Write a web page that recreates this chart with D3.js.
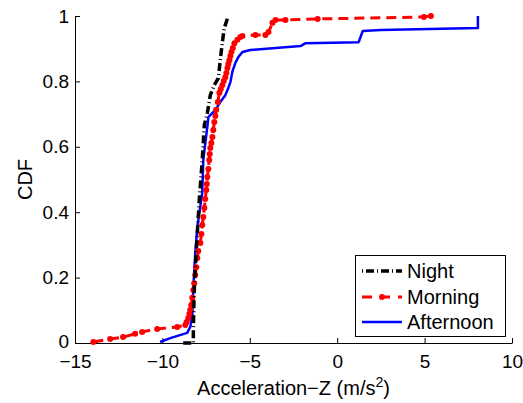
<!DOCTYPE html>
<html>
<head>
<meta charset="utf-8">
<script src="https://cdn.jsdelivr.net/npm/d3@7"></script>
<style>
  html, body { margin: 0; padding: 0; background: #fff; }
  svg { display: block; font-family: "Liberation Sans", Arial, sans-serif; }
</style>
</head>
<body>
<svg id="chart" width="523" height="403"></svg>
<script>
// Empirical CDFs of vertical acceleration for three times of day
const nightX = [-8.81, -8.23, -8.23, -8.18, -8.06, -7.89, -7.72, -7.60, -7.43, -7.26, -7.03, -6.80, -6.69, -6.57, -6.46, -6.23];
const nightY = [0, 0, 0.040, 0.162, 0.284, 0.437, 0.560, 0.667, 0.703, 0.758, 0.789, 0.810, 0.865, 0.920, 0.963, 1.0];

const morningX = [-13.95, -12.99, -12.25, -11.56, -11.16, -10.30, -9.15,
  -8.69, -8.61, -8.52, -8.46, -8.41, -8.35, -8.29, -8.23, -8.18, -8.12, -8.06, -8.00, -7.95,
  -7.83, -7.77, -7.72, -7.66, -7.60, -7.55, -7.49, -7.46, -7.43, -7.37, -7.32, -7.29, -7.26,
  -7.20, -7.14, -7.09, -7.03, -6.97, -6.92, -6.83, -6.74, -6.66, -6.57, -6.49, -6.40, -6.34,
  -6.28, -6.23, -6.17, -6.11, -6.05, -5.97, -5.88, -5.71, -5.54, -5.42,
  -4.68, -4.11, -3.93, -3.70, -3.53, -2.96, -1.12, 4.96, 5.36];
const morningY = [0.003, 0.012, 0.018, 0.028, 0.034, 0.043, 0.049,
  0.055, 0.064, 0.076, 0.089, 0.101, 0.116, 0.138, 0.162, 0.183, 0.208, 0.232, 0.260, 0.281,
  0.306, 0.333, 0.361, 0.385, 0.413, 0.440, 0.468, 0.486, 0.508, 0.532, 0.560, 0.578, 0.596,
  0.612, 0.630, 0.651, 0.676, 0.694, 0.713, 0.737, 0.765, 0.777, 0.789, 0.801, 0.813, 0.826,
  0.841, 0.853, 0.865, 0.878, 0.890, 0.902, 0.917, 0.927, 0.936, 0.939,
  0.942, 0.942, 0.951, 0.979, 0.988, 0.988, 0.991, 0.997, 1.0];

const afternoonX = [-10.13, -9.55, -8.58, -8.41, -8.29, -8.23, -8.12, -8.00, -7.72, -7.66, -7.43, -7.37, -7.09, -6.86, -6.69, -6.40, -6.23, -6.11, -6.00, -5.83, -5.65, -5.42, -4.97, -2.10, -1.81, 1.23, 1.46, 2.49, 8.05, 8.05];
const afternoonY = [0.003, 0.015, 0.031, 0.049, 0.080, 0.171, 0.275, 0.355, 0.459, 0.560, 0.661, 0.691, 0.706, 0.722, 0.737, 0.758, 0.780, 0.798, 0.829, 0.856, 0.875, 0.890, 0.896, 0.908, 0.917, 0.920, 0.954, 0.957, 0.963, 1.0];

const xTicks = [-15, -10, -5, 0, 5, 10];
const yTicks = [0, 0.2, 0.4, 0.6, 0.8, 1];
const seriesNames = ["Night", "Morning", "Afternoon"];

const svg = d3.select("#chart");
const x = d3.scaleLinear().domain([-15, 10]).range([75, 512]);
const y = d3.scaleLinear().domain([0, 1]).range([343, 16]);

const fmtNum = v => String(v).replace("-", "\u2212");

// axes: left and bottom only, ticks pointing inward
const xAxis = svg.append("g")
  .attr("transform", "translate(0,343)")
  .call(d3.axisBottom(x).tickValues(xTicks).tickSizeInner(-5).tickSizeOuter(0)
    .tickPadding(12).tickFormat(fmtNum));
const yAxis = svg.append("g")
  .attr("transform", "translate(75,0)")
  .call(d3.axisLeft(y).tickValues(yTicks).tickSizeInner(-5).tickSizeOuter(0)
    .tickPadding(6).tickFormat(fmtNum));

[xAxis, yAxis].forEach(g => {
  g.selectAll("text").attr("font-size", 19).attr("fill", "#000")
    .attr("font-family", "Liberation Sans, Arial, sans-serif");
  g.select(".domain").attr("stroke", "#000").attr("stroke-width", 1);
  g.selectAll(".tick line").attr("stroke", "#000").attr("stroke-width", 1);
});
// lift the bottom "0" a touch so it clears the x labels
yAxis.selectAll(".tick").filter(d => d === 0).select("text").attr("y", -2);

// axis titles
svg.append("text")
  .attr("x", 293.5).attr("y", 395)
  .attr("text-anchor", "middle").attr("font-size", 20)
  .html('Acceleration\u2212Z (m/s<tspan dy="-8" font-size="14">2</tspan><tspan dy="8">)</tspan>');

svg.append("text")
  .attr("transform", "translate(32,179.5) rotate(-90)")
  .attr("text-anchor", "middle").attr("font-size", 20)
  .text("CDF");

const line = d3.line().x(d => x(d[0])).y(d => y(d[1]));
const zip = (a, b) => a.map((v, i) => [v, b[i]]);

const night = zip(nightX, nightY);
const morning = zip(morningX, morningY);
const afternoon = zip(afternoonX, afternoonY);

// Afternoon: solid blue
svg.append("path").datum(afternoon)
  .attr("d", line).attr("fill", "none")
  .attr("stroke", "#0000ff").attr("stroke-width", 2.5)
  .attr("stroke-linejoin", "round");

// Morning: dashed red with dot markers
svg.append("path").datum(morning)
  .attr("d", line).attr("fill", "none")
  .attr("stroke", "#ff0000").attr("stroke-width", 3)
  .attr("stroke-dasharray", "10,6");
svg.append("g").selectAll("circle").data(morning).join("circle")
  .attr("cx", d => x(d[0])).attr("cy", d => y(d[1])).attr("r", 3)
  .attr("fill", "#ff0000");

// Night: dash-dot black
svg.append("path").datum(night)
  .attr("d", line).attr("fill", "none")
  .attr("stroke", "#000").attr("stroke-width", 3.5)
  .attr("stroke-dasharray", "8,3,1,3");

// legend
const lg = svg.append("g");
lg.append("rect")
  .attr("x", 355.5).attr("y", 255.5).attr("width", 150).attr("height", 81)
  .attr("fill", "#fff").attr("stroke", "#000").attr("stroke-width", 1);

const rows = [271, 297, 322];
const styles = [
  { stroke: "#000", width: 3.5, dash: "1,3,8,3" },
  { stroke: "#ff0000", width: 3, dash: "10,8" },
  { stroke: "#0000ff", width: 2.5, dash: null }
];
seriesNames.forEach((name, i) => {
  const ry = rows[i];
  lg.append("line")
    .attr("x1", 362).attr("x2", 402).attr("y1", ry).attr("y2", ry)
    .attr("stroke", styles[i].stroke).attr("stroke-width", styles[i].width)
    .attr("stroke-dasharray", styles[i].dash);
  if (i === 1) {
    lg.append("circle").attr("cx", 382).attr("cy", ry).attr("r", 3).attr("fill", "#ff0000");
  }
  lg.append("text")
    .attr("x", 407).attr("y", ry + 7)
    .attr("font-size", 20).text(name);
});
</script>
</body>
</html>
